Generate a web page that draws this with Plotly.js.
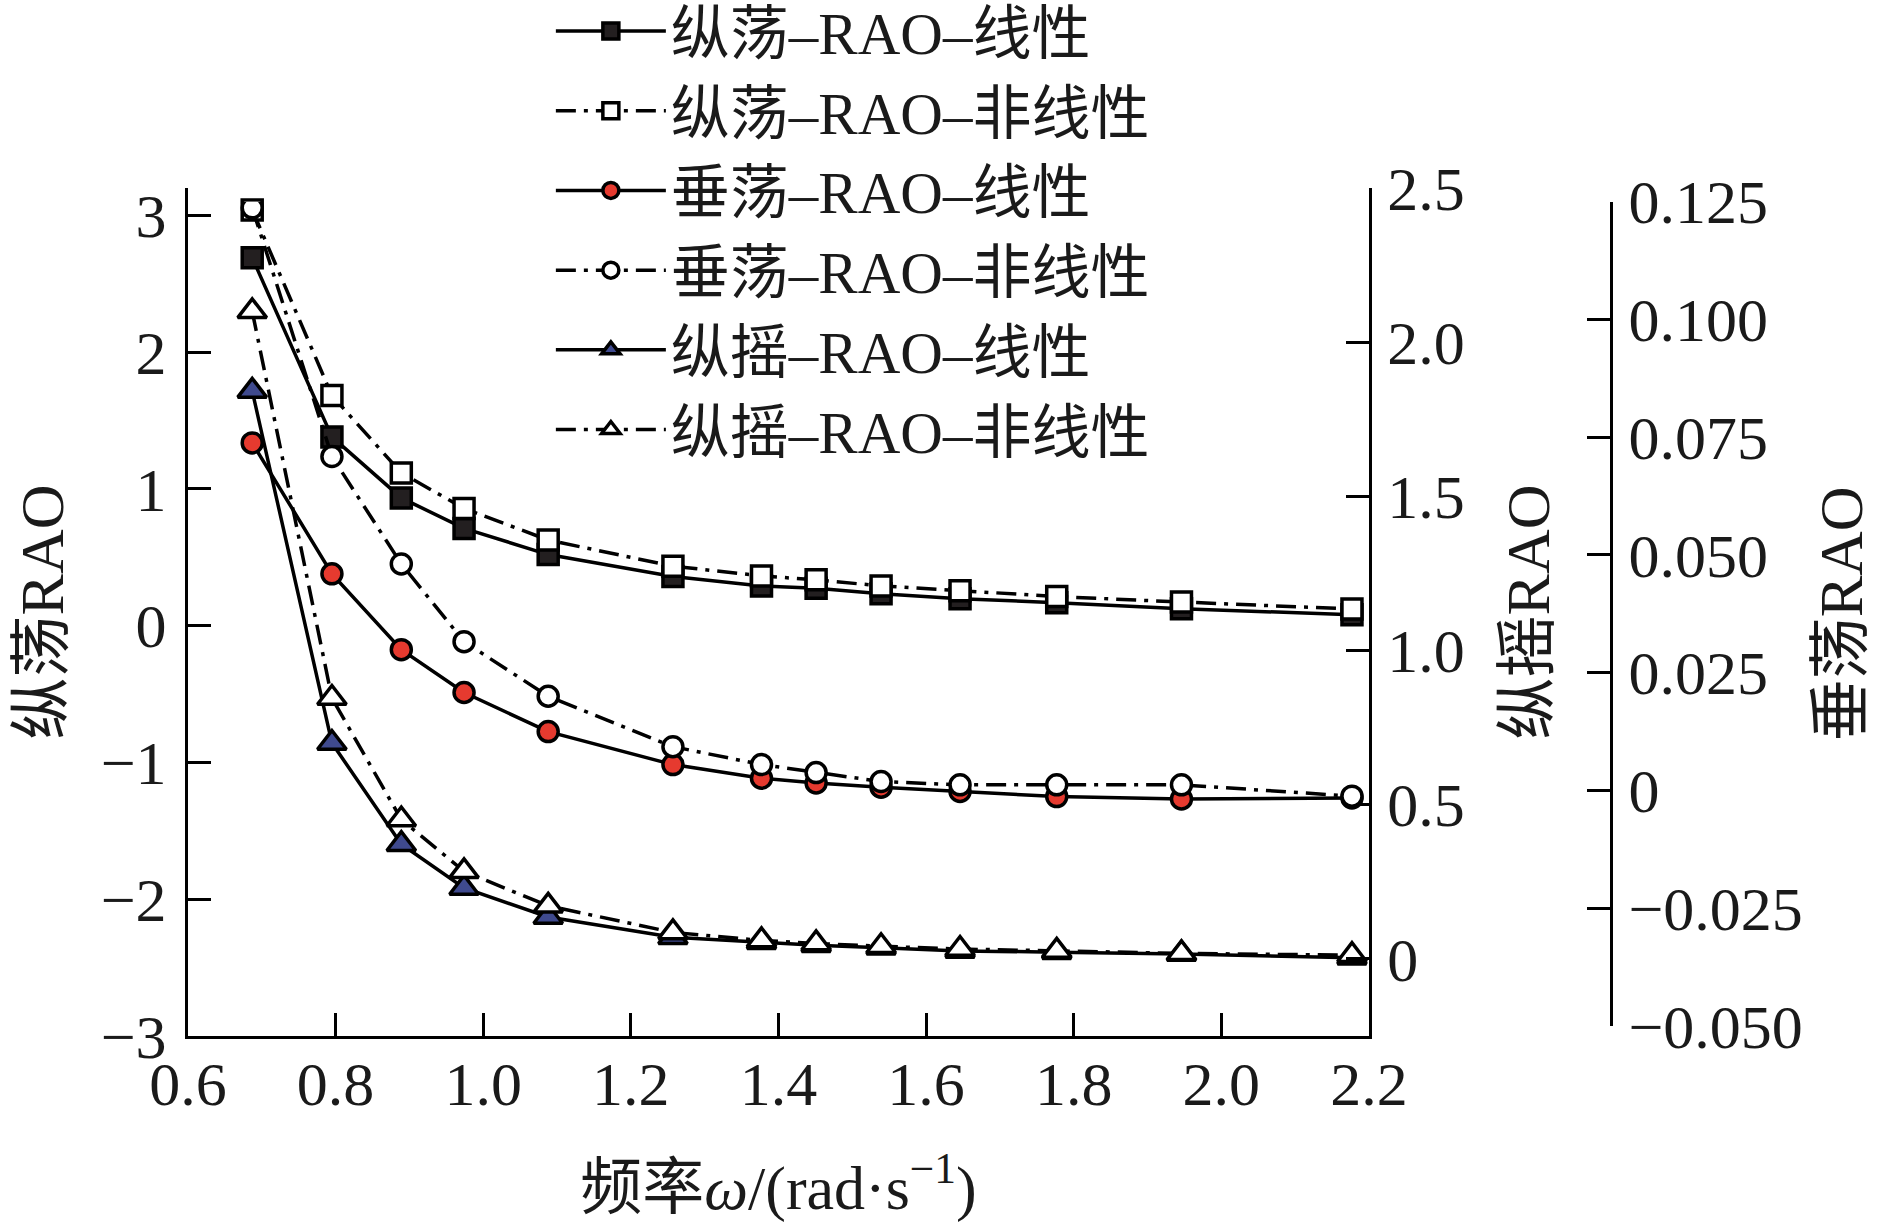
<!DOCTYPE html>
<html>
<head>
<meta charset="utf-8">
<script src="https://cdn.plot.ly/plotly-3.0.1.min.js"></script>
<style>html,body{margin:0;padding:0;background:#fff;}#chart{width:1889px;height:1223px;}</style>
</head>
<body>
<div id="chart"></div>
<script>
// ---- data ----
const freq      = [0.687, 0.795, 0.889, 0.974, 1.088, 1.257, 1.377, 1.451, 1.539, 1.646, 1.777, 1.946, 2.177];
const surgeLin  = [2.69, 1.38, 0.934, 0.711, 0.52, 0.359, 0.291, 0.274, 0.233, 0.197, 0.168, 0.124, 0.080];
const surgeNon  = [3.04, 1.682, 1.117, 0.857, 0.626, 0.435, 0.364, 0.335, 0.291, 0.255, 0.213, 0.173, 0.122];
const heaveLin  = [0.0738, 0.0460, 0.0299, 0.0208, 0.0125, 0.0055, 0.0026, 0.0016, 0.0007, -0.0002, -0.0013, -0.0018, -0.0016];
const heaveNon  = [0.1237, 0.0709, 0.0481, 0.0316, 0.0200, 0.0093, 0.0055, 0.0038, 0.0019, 0.0012, 0.0012, 0.0012, -0.0012];
const pitchLin  = [1.842, 0.700, 0.372, 0.230, 0.136, 0.070, 0.054, 0.044, 0.036, 0.026, 0.022, 0.016, 0.004];
const pitchNon  = [2.100, 0.846, 0.452, 0.284, 0.172, 0.086, 0.060, 0.050, 0.041, 0.032, 0.026, 0.018, 0.012];

const names = ['纵荡–RAO–线性','纵荡–RAO–非线性','垂荡–RAO–线性','垂荡–RAO–非线性','纵摇–RAO–线性','纵摇–RAO–非线性'];

const y1Ticks = [-3, -2, -1, 0, 1, 2, 3];
const y1Text  = ['−3','−2','−1','0','1','2','3'];
const y2Ticks = [0, 0.5, 1.0, 1.5, 2.0, 2.5];
const y2Text  = ['0','0.5','1.0','1.5','2.0','2.5'];
const y3Ticks = [-0.05, -0.025, 0, 0.025, 0.05, 0.075, 0.1, 0.125];
const y3Text  = ['−0.050','−0.025','0','0.025','0.050','0.075','0.100','0.125'];

const FONT = 'Liberation Serif, Times New Roman, Noto Sans CJK SC, serif';
const DASHDOT = '20px,8px,4px,8px';

function tr(y, name, yaxis, dash, symbol, fill, size){
  return {
    x: freq, y: y, name: name, yaxis: yaxis, type: 'scatter', mode: 'lines+markers',
    line: {color: '#000', width: 3.5, dash: dash},
    marker: {symbol: symbol, size: size, color: fill, line: {color: '#000', width: 3.5}}
  };
}

const data = [
  tr(surgeLin, names[0], 'y',  'solid', 'square', '#231f20', 20),
  tr(surgeNon, names[1], 'y',  DASHDOT, 'square', '#ffffff', 20),
  tr(heaveLin, names[2], 'y3', 'solid', 'circle', '#e63a2f', 20),
  tr(heaveNon, names[3], 'y3', DASHDOT, 'circle', '#ffffff', 20),
  tr(pitchLin, names[4], 'y2', 'solid', 'triangle-up', '#3f4a8e', 25),
  tr(pitchNon, names[5], 'y2', DASHDOT, 'triangle-up', '#ffffff', 25)
];

const axisCommon = {
  showgrid: false, zeroline: false, showline: true, linecolor: '#000', linewidth: 3,
  ticks: 'inside', ticklen: 23, tickwidth: 3, tickcolor: '#000',
  tickfont: {family: FONT, size: 62, color: '#1a1a1a'}
};

const layout = {
  width: 1889, height: 1223,
  paper_bgcolor: '#fff', plot_bgcolor: 'rgba(0,0,0,0)',
  margin: {l: 188, r: 278, t: 188, b: 187, autoexpand: false},
  showlegend: true,
  font: {family: FONT, color: '#1a1a1a'},
  legend: {
    x: 0.255, y: 1.238, xanchor: 'left', yanchor: 'top',
    bgcolor: 'rgba(0,0,0,0)', borderwidth: 0,
    font: {family: FONT, size: 59, color: '#1a1a1a'},
    itemwidth: 110, tracegroupgap: 0
  },
  xaxis: Object.assign({}, axisCommon, {
    domain: [0, 0.8299], range: [0.6, 2.2], dtick: 0.2, tick0: 0.6, tickformat: '.1f',
    anchor: 'y', ticklabelstandoff: -8,
    title: {text: '频率<i>ω</i>/(rad·s<sup>−1</sup>)', font: {family: FONT, size: 62, color: '#1a1a1a'}, standoff: 53}
  }),
  yaxis: Object.assign({}, axisCommon, {
    range: [-3, 3.2], tickvals: y1Ticks, ticktext: y1Text,
    anchor: 'x', side: 'left', ticklabelstandoff: 6,
    title: {text: '纵荡RAO', font: {family: FONT, size: 62, color: '#1a1a1a'}, standoff: 17}
  }),
  yaxis2: Object.assign({}, axisCommon, {
    range: [-0.25, 2.5], tickvals: y2Ticks, ticktext: y2Text,
    overlaying: 'y', anchor: 'x', side: 'right', ticklabelstandoff: 3,
    title: {text: '纵摇RAO', font: {family: FONT, size: 62, color: '#1a1a1a'}, standoff: 42}
  }),
  yaxis3: Object.assign({}, axisCommon, {
    range: [-0.05, 0.125], tickvals: y3Ticks, ticktext: y3Text,
    anchor: 'free', position: 1, side: 'right', domain: [0.0118, 0.9838], ticklabelstandoff: 3,
    title: {text: '垂荡RAO', font: {family: FONT, size: 62, color: '#1a1a1a'}, standoff: 16}
  })
};

Plotly.newPlot('chart', data, layout, {staticPlot: true, displayModeBar: false});
</script>
</body>
</html>
